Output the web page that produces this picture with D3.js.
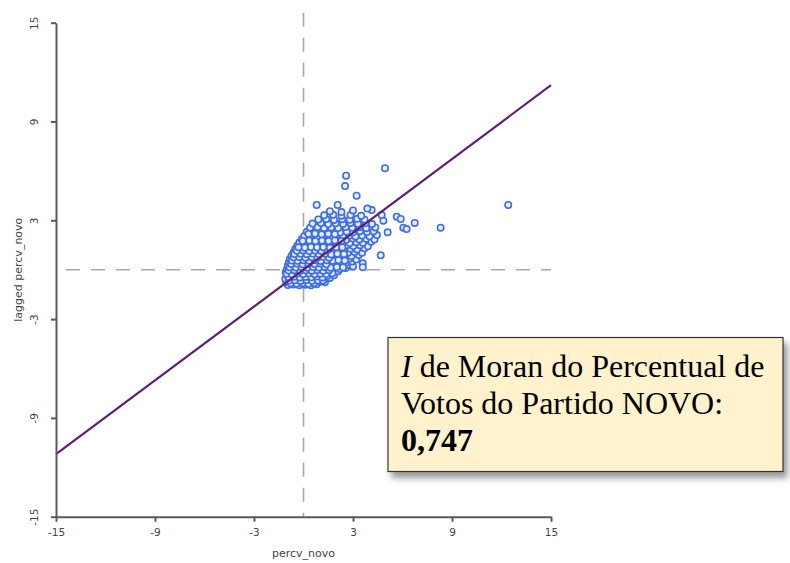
<!DOCTYPE html>
<html>
<head>
<meta charset="utf-8">
<script src="https://cdn.jsdelivr.net/npm/d3@7"></script>
<style>
  body { margin: 0; background: #fff; }
  svg { display: block; }
  .axis text { font-family: "DejaVu Sans", Verdana, sans-serif; font-size: 10.5px; fill: #444; }
  .axis path, .axis line { stroke: #5a5a5a; stroke-width: 2; }
  .lab { font-family: "DejaVu Sans", Verdana, sans-serif; font-size: 11px; fill: #444; }
</style>
</head>
<body>
<svg id="chart" width="790" height="563"></svg>
<script>
// tick labels for both axes
const xTicks = [-15, -9, -3, 3, 9, 15];
const yTicks = [-15, -9, -3, 3, 9, 15];
const moranI = 0.747;

// isolated points
const outliers = [
  [4.94, 6.16], [2.58, 5.71], [2.52, 5.08], [3.22, 4.49], [0.80, 3.93], [2.07, 3.93],
  [12.41, 3.93], [8.31, 2.55], [6.74, 2.84], [6.05, 2.55], [6.25, 2.47], [5.65, 3.22],
  [5.89, 3.08], [5.10, 2.27], [4.68, 0.87], [3.59, 0.39], [3.59, 0.15], [4.84, 2.98],
  [4.74, 3.32], [4.13, 3.62], [3.87, 3.71]
];

// main cloud, estimated row by row
const cloud = [
  [-0.95,-0.93],[-0.6,-0.9],[-0.25,-0.94],[0.1,-0.91],[0.45,-0.95],[0.8,-0.89],
  [-1.05,-0.74],[-0.78,-0.8],[-0.42,-0.72],[-0.08,-0.78],[0.28,-0.75],[0.62,-0.79],[0.98,-0.73],[1.3,-0.76],
  [-1.1,-0.55],[-0.85,-0.58],[-0.5,-0.52],[-0.15,-0.57],[0.2,-0.53],[0.55,-0.58],[0.9,-0.54],[1.25,-0.6],[1.6,-0.5],
  [-0.98,-0.35],[-0.65,-0.38],[-0.3,-0.33],[0.05,-0.37],[0.4,-0.32],[0.75,-0.36],[1.1,-0.31],[1.45,-0.38],[1.85,-0.34],
  [-1.08,-0.15],[-0.8,-0.18],[-0.45,-0.12],[-0.1,-0.16],[0.25,-0.13],[0.6,-0.17],[0.95,-0.11],[1.3,-0.18],[1.7,-0.14],[2.1,-0.1],
  [-1.0,0.05],[-0.68,0.02],[-0.32,0.07],[0.02,0.03],[0.38,0.08],[0.72,0.01],[1.08,0.06],[1.42,0.02],[1.8,0.08],[2.2,0.04],[2.55,0.1],
  [-0.95,0.25],[-0.55,0.22],[-0.2,0.28],[0.15,0.23],[0.5,0.27],[0.85,0.21],[1.2,0.26],[1.55,0.22],[1.95,0.29],[2.3,0.24],[2.75,0.3],[3.0,0.2],
  [-0.88,0.45],[-0.6,0.48],[-0.28,0.42],[0.08,0.47],[0.42,0.43],[0.78,0.49],[1.12,0.44],[1.5,0.48],[1.85,0.42],[2.2,0.47],[2.6,0.43],[2.95,0.5],
  [-0.82,0.65],[-0.45,0.62],[-0.1,0.68],[0.25,0.63],[0.6,0.67],[0.95,0.61],[1.3,0.66],[1.68,0.62],[2.05,0.69],[2.4,0.64],[2.8,0.68],[3.2,0.62],
  [-0.72,0.85],[-0.38,0.88],[0.0,0.83],[0.35,0.87],[0.7,0.82],[1.05,0.88],[1.42,0.84],[1.8,0.89],[2.15,0.83],[2.55,0.87],[2.9,0.82],[3.35,0.9],
  [-0.6,1.05],[-0.25,1.02],[0.12,1.08],[0.48,1.03],[0.85,1.07],[1.2,1.01],[1.58,1.06],[1.95,1.02],[2.3,1.09],[2.7,1.04],[3.1,1.08],[3.55,1.03],
  [-0.5,1.25],[-0.15,1.28],[0.22,1.22],[0.6,1.27],[0.95,1.23],[1.32,1.29],[1.7,1.24],[2.08,1.28],[2.45,1.22],[2.85,1.27],[3.25,1.23],[3.7,1.3],
  [-0.38,1.45],[0.0,1.42],[0.35,1.48],[0.72,1.43],[1.1,1.47],[1.5,1.41],[1.88,1.46],[2.25,1.42],[2.62,1.49],[3.02,1.44],[3.42,1.48],[3.9,1.42],
  [-0.25,1.65],[0.12,1.68],[0.5,1.62],[0.88,1.67],[1.25,1.63],[1.65,1.69],[2.02,1.64],[2.4,1.68],[2.8,1.62],[3.2,1.67],[3.6,1.63],[4.1,1.7],
  [-0.1,1.85],[0.28,1.82],[0.65,1.88],[1.02,1.83],[1.42,1.87],[1.8,1.81],[2.2,1.86],[2.58,1.82],[2.98,1.89],[3.38,1.84],[3.8,1.88],[4.3,1.83],
  [0.05,2.05],[0.45,2.08],[0.82,2.02],[1.2,2.07],[1.6,2.03],[2.0,2.09],[2.38,2.04],[2.78,2.08],[3.15,2.02],[3.55,2.07],[4.0,2.03],[4.45,2.1],
  [0.2,2.3],[0.62,2.27],[1.0,2.33],[1.4,2.28],[1.82,2.32],[2.22,2.26],[2.62,2.31],[3.0,2.27],[3.42,2.34],[3.85,2.29],[4.25,2.33],
  [0.4,2.55],[0.85,2.58],[1.25,2.52],[1.68,2.57],[2.1,2.53],[2.55,2.59],[2.95,2.54],[3.38,2.58],[3.8,2.52],[4.35,2.57],
  [0.55,2.8],[1.05,2.83],[1.5,2.77],[1.95,2.82],[2.4,2.78],[2.85,2.84],[3.3,2.79],[3.75,2.83],[4.15,2.77],
  [0.9,3.05],[1.38,3.08],[1.85,3.02],[2.35,3.07],[2.8,3.03],[3.25,3.09],[3.7,3.04],
  [1.25,3.3],[1.8,3.33],[2.3,3.28],[2.85,3.32],[3.5,3.27],
  [1.6,3.55],[2.3,3.5],[3.0,3.6]
];

// extra points packed into the dense lower-left part of the cloud
const dense = [
  [-0.78,-0.83],[-0.42,-0.85],[-0.05,-0.82],[0.3,-0.86],[0.65,-0.81],
  [-0.88,-0.66],[-0.52,-0.64],[-0.18,-0.68],[0.18,-0.63],[0.52,-0.67],[0.88,-0.65],[1.18,-0.66],
  [-0.92,-0.45],[-0.58,-0.43],[-0.22,-0.47],[0.12,-0.44],[0.48,-0.46],[0.82,-0.42],[1.15,-0.47],
  [-1.02,-0.25],[-0.7,-0.27],[-0.36,-0.23],[-0.02,-0.26],[0.33,-0.22],[0.68,-0.27],[1.02,-0.24],[1.38,-0.26],[1.75,-0.22],
  [-0.9,-0.05],[-0.55,-0.03],[-0.2,-0.07],[0.15,-0.04],[0.5,-0.06],[0.85,-0.02],[1.2,-0.07],[1.55,-0.03],
  [-0.84,0.15],[-0.47,0.13],[-0.12,0.17],[0.22,0.12],[0.58,0.16],[0.93,0.13],[1.28,0.17],[1.64,0.12],[2.02,0.16],[2.4,0.14],
  [-0.75,0.35],[-0.4,0.37],[-0.05,0.33],[0.3,0.36],[0.68,0.34],[1.02,0.38],[1.38,0.33],
  [-0.7,0.56],[-0.36,0.54],[0.0,0.58],[0.34,0.55],[0.7,0.57],[1.05,0.53],[1.42,0.57],[1.77,0.54],[2.12,0.58],[2.5,0.55],
  [-0.6,0.75],[-0.25,0.77],[0.12,0.73],[0.5,0.76],[0.85,0.74],[1.2,0.78],[1.55,0.73],
  [-0.55,0.95],[-0.18,0.97],[0.2,0.94],[0.56,0.98],[0.93,0.95],[1.3,0.97],[1.68,0.93],[2.05,0.97],[2.45,0.95],
  [-0.4,1.15],[-0.02,1.17],[0.35,1.13],[0.7,1.16],[1.08,1.14],[1.45,1.18],
  [-0.3,1.36],[0.08,1.34],[0.45,1.38],[0.82,1.35],[1.2,1.37],[1.6,1.33],[1.98,1.37],[2.35,1.35],
  [-0.05,1.75],[0.35,1.77],[0.72,1.73],[1.12,1.76],[1.52,1.74],[1.9,1.78],[2.3,1.75],
  [0.3,2.17],[0.7,2.19],[1.1,2.15],[1.5,2.18],[1.9,2.16]
];

const xLabel = "percv_novo";
const yLabel = "lagged percv_novo";
const noteLine1 = " de Moran do Percentual de";
const noteLine2 = "Votos do Partido NOVO:";

const svg = d3.select("#chart");

const x = d3.scaleLinear().domain([-15, 15]).range([56, 551]);
const y = d3.scaleLinear().domain([-15, 15]).range([516.7, 22.7]);
const plain = d => String(d);   // plain hyphen minus, like the original

// quadrant lines through the means
svg.append("line")
    .attr("x1", x(-15)).attr("x2", x(15))
    .attr("y1", y(0)).attr("y2", y(0))
    .attr("stroke", "#a8a8a8").attr("stroke-width", 1.6)
    .attr("stroke-dasharray", "14,11").attr("stroke-dashoffset", -10);

svg.append("line")
    .attr("x1", x(0)).attr("x2", x(0))
    .attr("y1", y(15.6)).attr("y2", y(-15))
    .attr("stroke", "#a8a8a8").attr("stroke-width", 1.6)
    .attr("stroke-dasharray", "14,11");

// points
svg.append("g")
    .selectAll("circle")
    .data(cloud.concat(dense, outliers)).enter()
    .append("circle")
    .attr("cx", d => x(d[0]))
    .attr("cy", d => y(d[1]))
    .attr("r", 3.2)
    .attr("fill", "#e6eeff")
    .attr("stroke", "#3d6ce3")
    .attr("stroke-width", 1.6);

// regression line, slope = Moran's I
svg.append("line")
    .attr("x1", x(-15)).attr("y1", y(-15 * moranI))
    .attr("x2", x(15)).attr("y2", y(15 * moranI))
    .attr("stroke", "#5e1f76").attr("stroke-width", 2.2);

// axes
svg.append("g")
    .attr("class", "axis")
    .attr("transform", `translate(0,${y(-15)})`)
    .call(d3.axisBottom(x).tickValues(xTicks).tickFormat(plain)
        .tickSize(5).tickSizeOuter(0).tickPadding(7));

const ya = svg.append("g")
    .attr("class", "axis")
    .attr("transform", `translate(${x(-15)},0)`)
    .call(d3.axisLeft(y).tickValues(yTicks).tickFormat(plain)
        .tickSize(5).tickSizeOuter(0));
ya.selectAll(".tick text")
    .attr("x", null).attr("dy", null)
    .attr("text-anchor", "middle")
    .attr("transform", "translate(-18.5,0) rotate(-90)");

svg.append("text")
    .attr("class", "lab")
    .attr("x", x(0)).attr("y", 557)
    .attr("text-anchor", "middle")
    .text(xLabel);

svg.append("text")
    .attr("class", "lab")
    .attr("transform", `translate(22,${y(0)}) rotate(-90)`)
    .attr("text-anchor", "middle")
    .text(yLabel);

// annotation box
const defs = svg.append("defs");
defs.append("filter").attr("id", "shadow")
    .attr("x", "-10%").attr("y", "-10%").attr("width", "130%").attr("height", "140%")
    .append("feDropShadow")
    .attr("dx", 4).attr("dy", 6).attr("stdDeviation", 3)
    .attr("flood-color", "#555").attr("flood-opacity", 0.6);

svg.append("rect")
    .attr("x", 388).attr("y", 337.5)
    .attr("width", 395).attr("height", 134)
    .attr("fill", "#fff2cc")
    .attr("stroke", "#333").attr("stroke-width", 1.2)
    .attr("filter", "url(#shadow)");

const note = svg.append("text")
    .style("font-family", "Liberation Serif, 'Times New Roman', serif")
    .style("font-size", "32px").style("fill", "#000");

const l1 = note.append("tspan").attr("x", 401).attr("y", 377);
l1.append("tspan").style("font-style", "italic").text("I");
l1.append("tspan").text(noteLine1);
note.append("tspan").attr("x", 401).attr("y", 414).text(noteLine2);
note.append("tspan").attr("x", 401).attr("y", 451)
    .style("font-weight", "bold")
    .text(d3.format(".3f")(moranI).replace(".", ","));
</script>
</body>
</html>
